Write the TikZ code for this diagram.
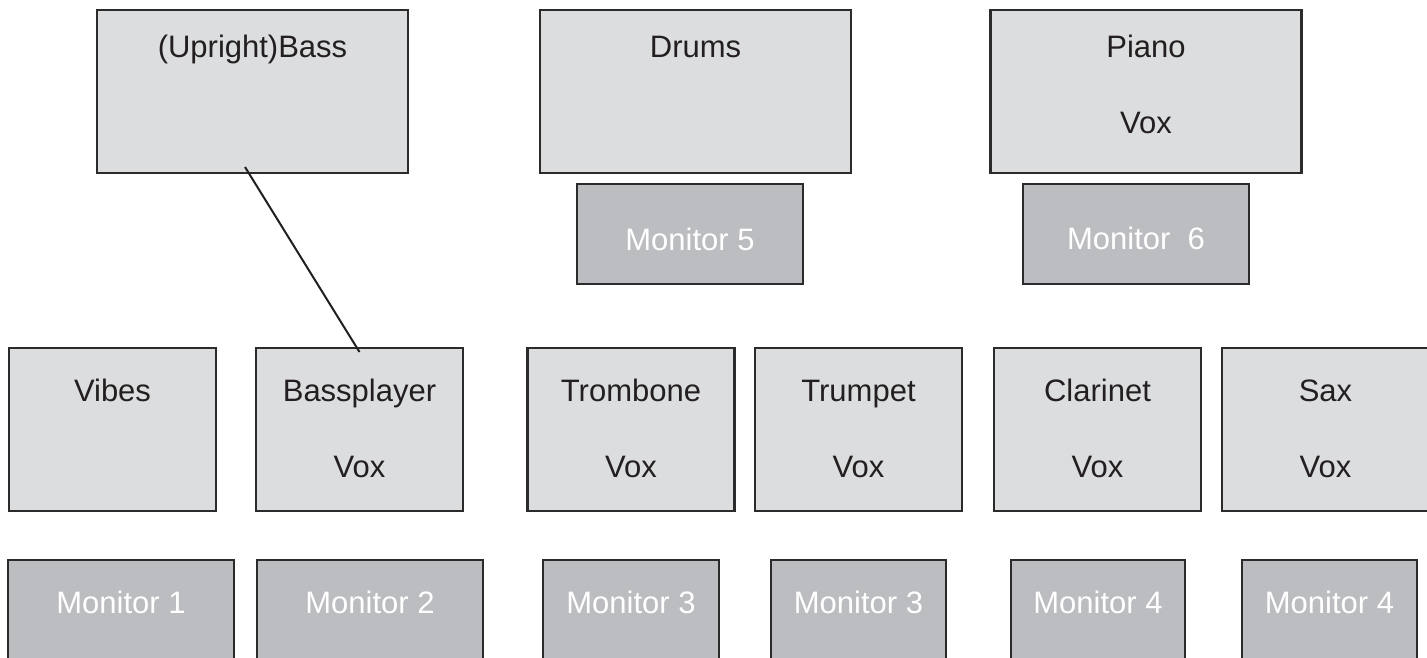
\documentclass[tikz,border=0pt]{standalone}
\usepackage{fontspec}
\setmainfont{Liberation Sans}
\usetikzlibrary{positioning,calc}
\definecolor{standgray}{HTML}{DCDDDF}
\definecolor{mongray}{HTML}{BCBDC0}
\definecolor{edgegray}{HTML}{2B2B2B}
\definecolor{inkblack}{HTML}{231F20}

\begin{document}
\begin{tikzpicture}[x=1pt,y=-1pt,
  stand/.style={draw=edgegray,line width=2.5pt,fill=standgray,inner sep=0pt,outer sep=0pt},
  bigstand/.style={stand,minimum width=311pt,minimum height=163pt},
  smallstand/.style={stand,minimum width=207pt,minimum height=163pt},
  monitor/.style={draw=edgegray,line width=2.5pt,fill=mongray,inner sep=0pt,outer sep=0pt,minimum height=100pt},
  tag/.style={anchor=base,inner sep=0pt,text=inkblack,font=\fontsize{31}{36}\selectfont},
  montag/.style={tag,text=white},
  cable/.style={draw=inkblack,line width=2pt}]
\clip (0,0) rectangle (1427,657);

\node[bigstand] (bass) at (252.5,91.5) {};
\node[tag] (basstxt) at ([yshift=-47pt]bass.north) {(Upright)Bass};

\node[bigstand] (drums) at (695.5,91.5) {};
\node[tag] (drumstxt) at ([yshift=-47pt]drums.north) {Drums};

\node[bigstand] (piano) at (1146,91.5) {};
\node[tag] (pianotxt) at ([yshift=-47pt]piano.north) {Piano};
\node[tag] (pianovox) at ([yshift=-123pt]piano.north) {Vox};

\node[monitor,minimum width=226pt] (mon5) at (690,234) {};
\node[montag] (mon5txt) at ([yshift=-66pt]mon5.north) {Monitor 5};
\node[monitor,minimum width=226pt] (mon6) at (1136,234) {};
\node[montag] (mon6txt) at ([yshift=-65pt]mon6.north) {Monitor\ \ 6};

\node[smallstand] (vibes) at (112.5,429.5) {};
\node[tag] (vibestxt) at ([yshift=-53pt]vibes.north) {Vibes};

\node[smallstand] (player) at (359.5,429.5) {};
\node[tag] (playertxt) at ([yshift=-53pt]player.north) {Bassplayer};
\node[tag] (playervox) at ([yshift=-129pt]player.north) {Vox};

\node[smallstand] (trombone) at (631,429.5) {};
\node[tag] (trombonetxt) at ([yshift=-53pt]trombone.north) {Trombone};
\node[tag] (trombonevox) at ([yshift=-129pt]trombone.north) {Vox};

\node[smallstand] (trumpet) at (858.5,429.5) {};
\node[tag] (trumpettxt) at ([yshift=-53pt]trumpet.north) {Trumpet};
\node[tag] (trumpetvox) at ([yshift=-129pt]trumpet.north) {Vox};

\node[smallstand] (clarinet) at (1097.5,429.5) {};
\node[tag] (clarinettxt) at ([yshift=-53pt]clarinet.north) {Clarinet};
\node[tag] (clarinetvox) at ([yshift=-129pt]clarinet.north) {Vox};

\node[smallstand,minimum width=211pt] (sax) at (1327.5,429.5) {};
\node[tag] (saxtxt) at ([yshift=-53pt,xshift=-2pt]sax.north) {Sax};
\node[tag] (saxvox) at ([yshift=-129pt,xshift=-2pt]sax.north) {Vox};

\node[monitor,minimum width=226pt] (mon1) at (121,610) {};
\node[montag] (mon1txt) at ([yshift=-53pt]mon1.north) {Monitor 1};
\node[monitor,minimum width=226pt] (mon2) at (370,610) {};
\node[montag] (mon2txt) at ([yshift=-53pt]mon2.north) {Monitor 2};
\node[monitor,minimum width=176pt] (mon3a) at (631,610) {};
\node[montag] (mon3atxt) at ([yshift=-53pt]mon3a.north) {Monitor 3};
\node[monitor,minimum width=175pt] (mon3b) at (858.5,610) {};
\node[montag] (mon3btxt) at ([yshift=-53pt]mon3b.north) {Monitor 3};
\node[monitor,minimum width=174pt] (mon4a) at (1098,610) {};
\node[montag] (mon4atxt) at ([yshift=-53pt]mon4a.north) {Monitor 4};
\node[monitor,minimum width=175pt] (mon4b) at (1329.5,610) {};
\node[montag] (mon4btxt) at ([yshift=-53pt]mon4b.north) {Monitor 4};

\coordinate (cabletop) at ($(bass.south)+(-7.5,-6)$);
\coordinate (cablebot) at ($(player.north)+(0,4)$);
\draw[cable] (cabletop) -- (cablebot);

\end{tikzpicture}
\end{document}
